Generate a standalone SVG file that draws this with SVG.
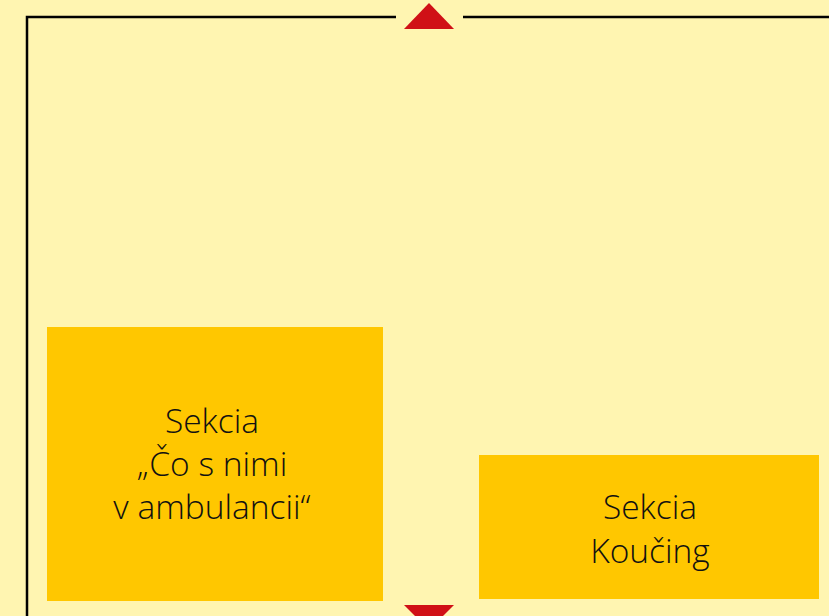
<svg xmlns="http://www.w3.org/2000/svg" width="829" height="616" viewBox="0 0 829 616">
<style>
.box{fill:#FFC700}
.lbl{font-family:"Open Sans","Noto Sans","DejaVu Sans",sans-serif;font-size:33.5px;font-weight:300;fill:#111;text-anchor:middle}
.ln{fill:none;stroke:#000;stroke-width:2.5}
.arr{fill:#D01016}
</style>
<rect width="829" height="616" fill="#FFF5B1"/>
<g id="connectors">
<path class="ln" d="M27 616 V17 H396 M463 17 H829"/>
<polygon class="arr" points="404,29 429,3 454,29"/>
<polygon class="arr" points="404,605 454,605 429,630"/>
</g>
<g id="node-ambulancia">
<rect class="box" x="47" y="327" width="336" height="274"/>
<text class="lbl" x="212" y="433">Sekcia</text>
<text class="lbl" x="212" y="476">„Čo s nimi</text>
<text class="lbl" x="212" y="519">v ambulancii“</text>
</g>
<g id="node-koucing">
<rect class="box" x="479" y="455" width="340" height="144"/>
<text class="lbl" x="650" y="519">Sekcia</text>
<text class="lbl" x="650" y="563">Koučing</text>
</g>
</svg>
